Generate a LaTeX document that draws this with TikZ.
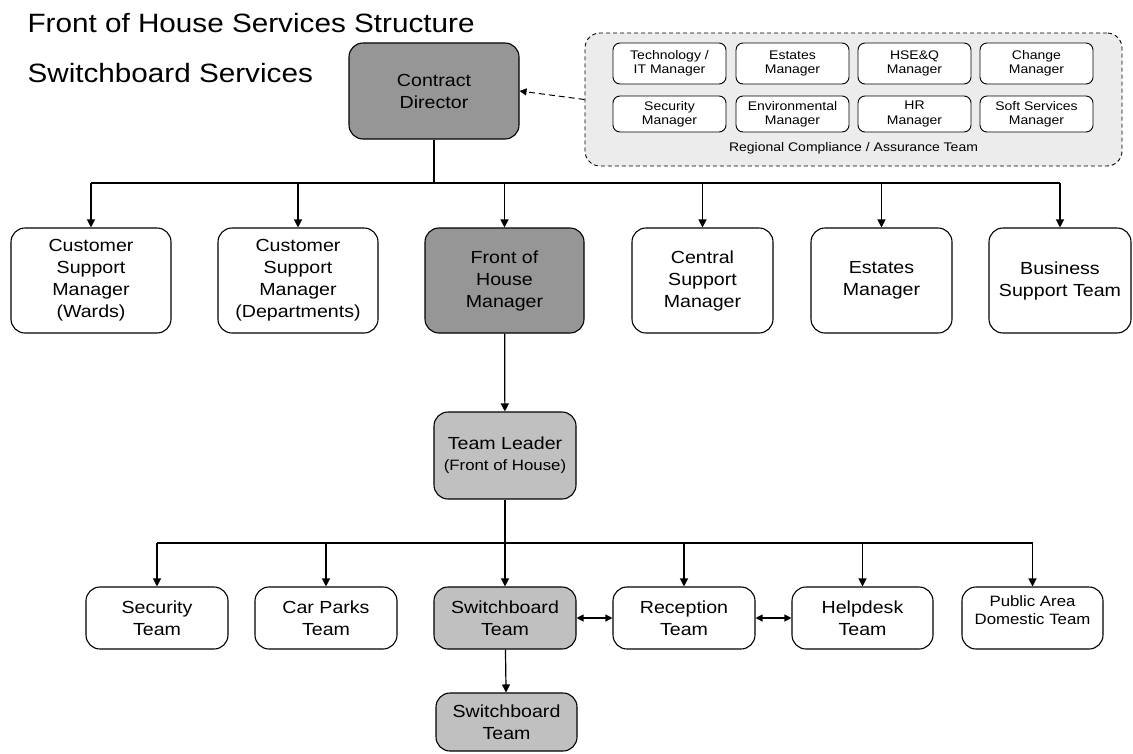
\documentclass[tikz,border=0pt]{standalone}
\usepackage{fontspec}
\setmainfont[FakeStretch=1.12]{Liberation Sans}
\usetikzlibrary{arrows.meta, positioning}
\definecolor{headgrey}{RGB}{150,150,150}
\definecolor{leadgrey}{RGB}{192,192,192}
\definecolor{panelgrey}{RGB}{236,236,236}

\begin{document}
\begin{tikzpicture}[x=1pt, y=-1pt,
    unit/.style={draw, line width=1.1pt, rounded corners=14pt, align=center, inner sep=0pt,
        minimum width=142pt, font=\fontsize{17.5}{22}\selectfont},
    head/.style={unit, fill=headgrey},
    lead/.style={unit, fill=leadgrey},
    member/.style={draw, line width=0.9pt, rounded corners=7pt, fill=white, align=center,
        inner sep=0pt, minimum width=113pt, font=\fontsize{12.5}{14.3}\selectfont},
    link/.style={-{Triangle[length=8pt,width=8pt]}, line width=1.2pt},
    both/.style={{Triangle[length=7pt,width=7pt]}-{Triangle[length=7pt,width=7pt]}, line width=1.2pt}]
        \useasboundingbox (0,0) rectangle (1133,753);
        \node[anchor=base west, font=\fontsize{26.5}{30}\selectfont] (title) at (24,32) {Front of House Services Structure};
        \node[anchor=base west, font=\fontsize{26.5}{30}\selectfont] (subtitle) at (24,82) {Switchboard Services};

        % top
        \node[head, minimum width=170pt, minimum height=96pt] (cd) at (434,91) {Contract\\Director};
        \node[draw, dashed, dash pattern=on 4pt off 3pt, line width=0.9pt, rounded corners=15pt, fill=panelgrey,
            minimum width=537pt, minimum height=133pt] (rca) at (853.5,99.5) {};
        \node[member, minimum height=41pt] (itm) at (669.5,63.5) {Technology /\\IT Manager};
        \node[member, minimum height=41pt] (esm) at (792.5,63.5) {Estates\\Manager};
        \node[member, minimum height=41pt] (hsq) at (914.5,63.5) {HSE\&Q\\Manager};
        \node[member, minimum height=41pt] (chm) at (1036.5,63.5) {Change\\Manager};
        \node[member, minimum height=36pt] (scm) at (669.5,114) {Security\\Manager};
        \node[member, minimum height=36pt] (env) at (792.5,114) {Environmental\\Manager};
        \node[member, minimum height=36pt] (hrm) at (914.5,114) {HR\\Manager};
        \node[member, minimum height=36pt] (ssm) at (1036.5,114) {Soft Services\\Manager};
        \node[font=\fontsize{12.5}{14}\selectfont] (rcalabel) at (853.5,148) {Regional Compliance / Assurance Team};
        \draw[-{Triangle[length=7pt,width=7pt]}, dashed, dash pattern=on 6pt off 4pt, line width=1pt] (rca.west) -- (cd.east);

        % managers
        \node[unit, minimum width=160pt, minimum height=105pt] (csw) at (91,280.5) {Customer\\Support\\Manager\\(Wards)};
        \node[unit, minimum width=160pt, minimum height=105pt] (csd) at (298,280.5) {Customer\\Support\\Manager\\(Departments)};
        \node[head, minimum width=159pt, minimum height=105pt] (foh) at (504.5,280.5) {Front of\\House\\Manager};
        \node[unit, minimum width=141pt, minimum height=105pt] (csm) at (702.5,280.5) {Central\\Support\\Manager};
        \node[unit, minimum width=141pt, minimum height=105pt] (est) at (881.5,280.5) {Estates\\Manager};
        \node[unit, minimum width=142pt, minimum height=105pt] (bst) at (1060,280.5) {Business\\Support Team};
        \coordinate (hub) at (434,183);
        \draw[line width=2.6pt] (cd) -- (hub);
        \draw[line width=1.4pt] (csw.north |- hub) -- (bst.north |- hub);
        \foreach \n in {csw,csd,foh,csm,est,bst}
            \draw[link] (\n.north |- hub) -- (\n.north);

        % front of house
        \node[lead, minimum height=87pt] (tl) at (505,455.5) {Team Leader\\[-1pt]{\fontsize{15}{18}\selectfont(Front of House)}};
        \draw[link] (foh) -- (tl);

        \node[unit, minimum height=62pt] (sec) at (157,618) {Security\\Team};
        \node[unit, minimum height=62pt] (car) at (326,618) {Car Parks\\Team};
        \node[lead, minimum height=62pt] (swb) at (505,618) {Switchboard\\Team};
        \node[unit, minimum height=62pt] (rec) at (684,618) {Reception\\Team};
        \node[unit, minimum width=141pt, minimum height=62pt] (hlp) at (862.5,618) {Helpdesk\\Team};
        \node[unit, minimum width=141pt, minimum height=62pt, text depth=15pt, font=\fontsize{15}{18}\selectfont] (pub) at (1032.5,618) {Public Area\\Domestic Team};
        \coordinate (split) at (505,543);
        \draw[line width=2.6pt] (tl) -- (split);
        \draw[line width=1.4pt] (sec.north |- split) -- (pub.north |- split);
        \foreach \n in {sec,car,swb,rec,hlp,pub}
            \draw[link] (\n.north |- split) -- (\n.north);
        \draw[both] (swb) -- (rec);
        \draw[both] (rec) -- (hlp);

        \node[lead, minimum width=141pt, minimum height=58pt] (swb2) at (506.5,722) {Switchboard\\Team};
        \draw[link] (swb) -- (swb2);
\end{tikzpicture}
\end{document}
